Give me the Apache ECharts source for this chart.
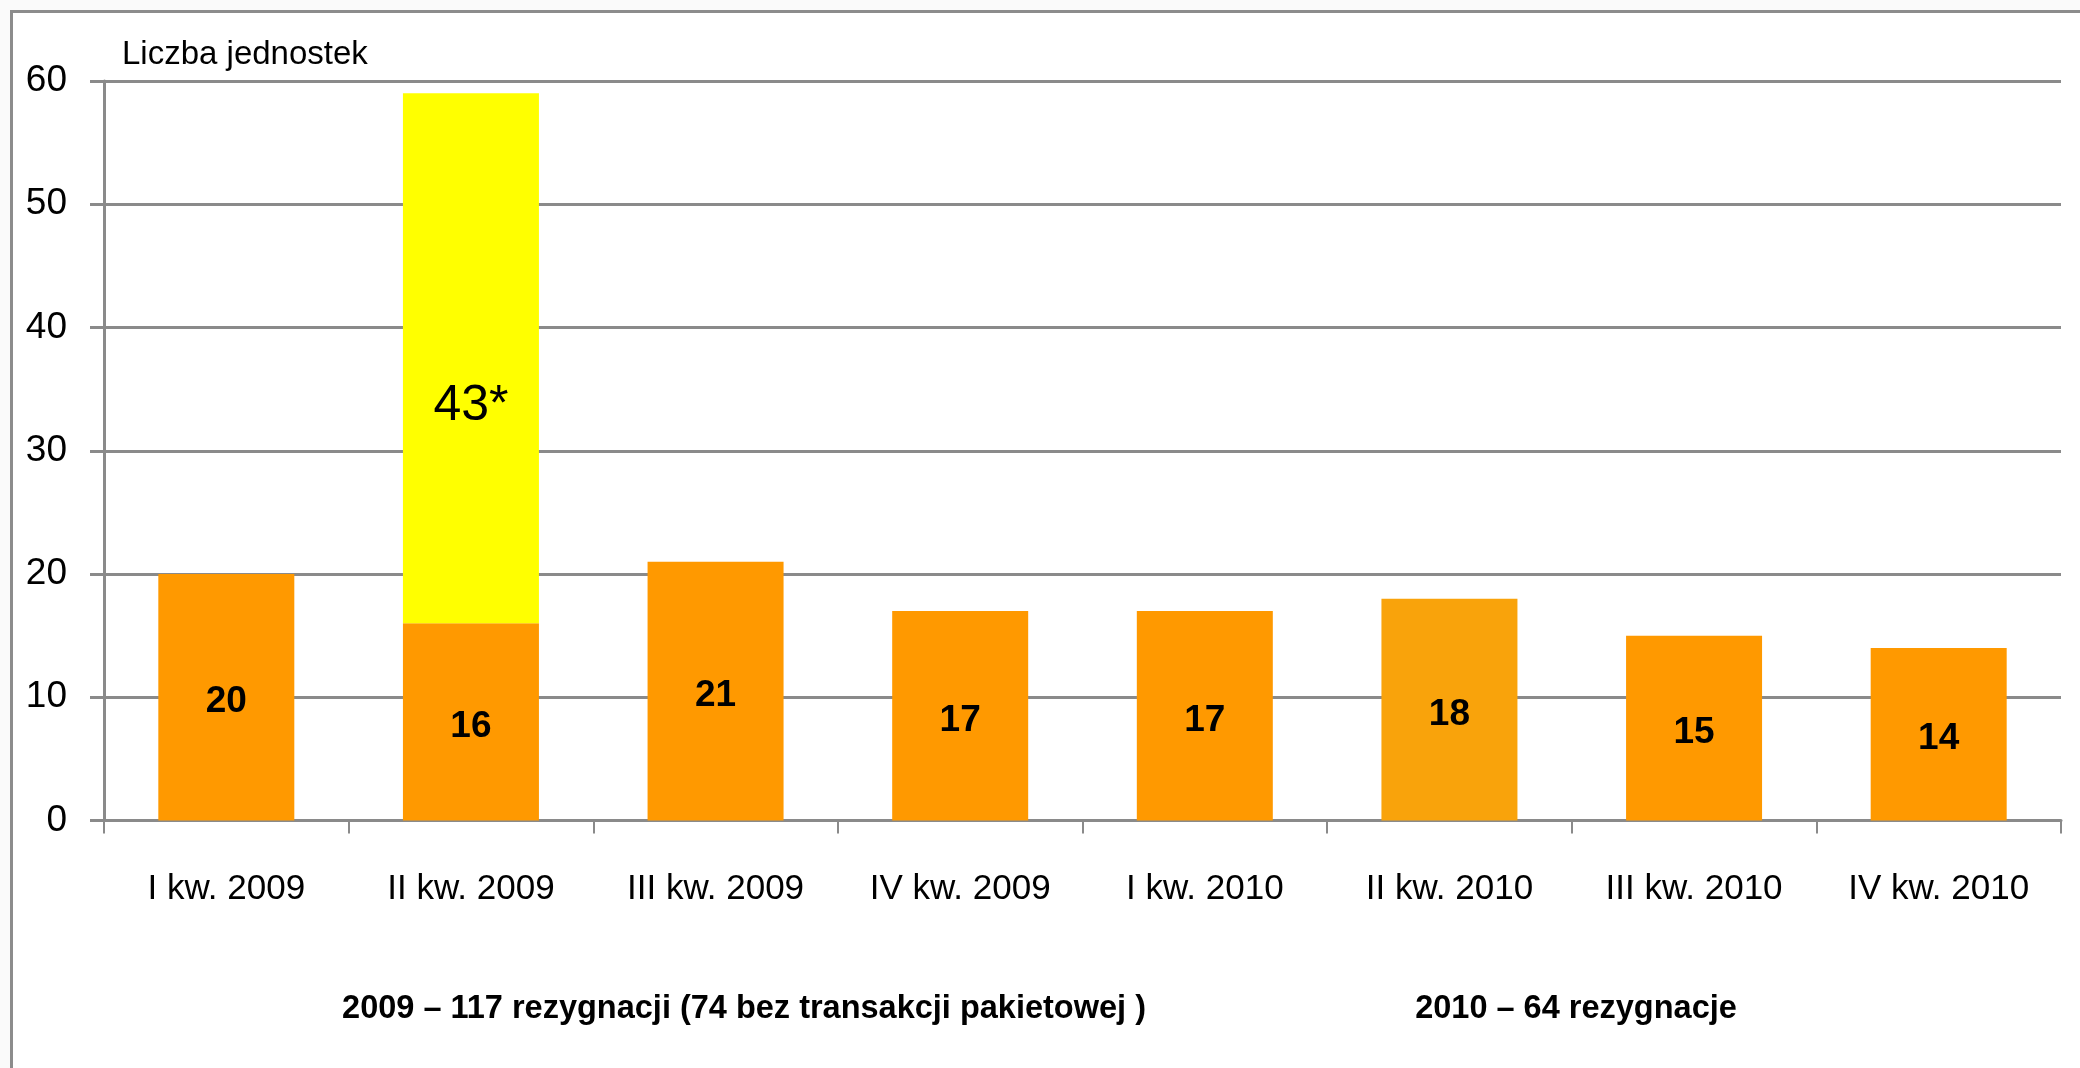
<!DOCTYPE html>
<html>
<head>
<meta charset="utf-8">
<script src="https://cdn.jsdelivr.net/npm/echarts@6/dist/echarts.min.js"></script>
<style>
html,body{margin:0;padding:0;width:2080px;height:1068px;overflow:hidden;background:#fafafa;}
#frame{position:absolute;left:10px;top:10px;width:2200px;height:1200px;background:#fff;border-left:3px solid #8c8c8c;border-top:3px solid #8c8c8c;}
#chart{position:absolute;left:0;top:0;width:2080px;height:1068px;}
</style>
</head>
<body>
<div id="frame"></div>
<div id="chart"></div>
<script>
const categories = ['I kw. 2009','II kw. 2009','III kw. 2009','IV kw. 2009','I kw. 2010','II kw. 2010','III kw. 2010','IV kw. 2010'];
const resignations = [20,16,21,17,17,18,15,14];
const packageDeal = ['-',43,'-','-','-','-','-','-'];
const barColors = ['#FF9900','#FF9900','#FF9900','#FF9900','#FF9900','#F9A30B','#FF9900','#FF9900'];
const yTicks = {min:0, max:60, interval:10};
const axisTitle = 'Liczba jednostek';
const note2009 = '2009 – 117 rezygnacji (74 bez transakcji pakietowej )';
const note2010 = '2010 – 64 rezygnacje';

const FONT = 'Liberation Sans, Arial, sans-serif';
const chart = echarts.init(document.getElementById('chart'), null, {renderer:'canvas'});
const option = {
  backgroundColor: 'transparent',
  animation: false,
  grid: {left:104, right:19, top:81, bottom:247.5, containLabel:false},
  xAxis: {
    type:'category',
    data: categories,
    axisLine:{show:true, lineStyle:{color:'#8a8a8a', width:3}},
    axisTick:{show:true, interval:0, alignWithLabel:false, length:13, lineStyle:{color:'#8a8a8a', width:2}},
    axisLabel:{interval:0, margin:51, color:'#000', fontFamily:FONT, fontSize:35},
    splitLine:{show:false}
  },
  yAxis: {
    type:'value',
    min: yTicks.min, max: yTicks.max, interval: yTicks.interval,
    axisLine:{show:true, lineStyle:{color:'#8a8a8a', width:3}},
    axisTick:{show:true, length:14, lineStyle:{color:'#8a8a8a', width:3}},
    axisLabel:{margin:37, color:'#000', fontFamily:FONT, fontSize:37},
    splitLine:{show:true, lineStyle:{color:'#8a8a8a', width:3}}
  },
  series: [
    {
      name:'rezygnacje', type:'bar', stack:'total', barWidth:136,
      data: resignations.map((v,i)=>({value:v, itemStyle:{color:barColors[i]}})),
      label:{show:true, position:'inside', offset:[0,5], color:'#000', fontWeight:'bold',
        fontFamily:FONT, fontSize:37}
    },
    {
      name:'transakcja pakietowa', type:'bar', stack:'total', barWidth:136,
      data: packageDeal,
      itemStyle:{color:'#FFFF00'},
      label:{show:true, position:'inside', offset:[0,48], color:'#000', formatter:'{c}*',
        fontFamily:FONT, fontSize:50}
    }
  ],
  graphic: [
    {type:'text', left:122, top:38, style:{text:axisTitle, fill:'#000', font:'33px "Liberation Sans", sans-serif'}},
    {type:'text', x:744, y:1009, style:{text:note2009, fill:'#000', align:'center', verticalAlign:'middle', font:'bold 32.5px "Liberation Sans", sans-serif'}},
    {type:'text', x:1576, y:1009, style:{text:note2010, fill:'#000', align:'center', verticalAlign:'middle', font:'bold 32.5px "Liberation Sans", sans-serif'}}
  ]
};
chart.setOption(option);
</script>
</body>
</html>
